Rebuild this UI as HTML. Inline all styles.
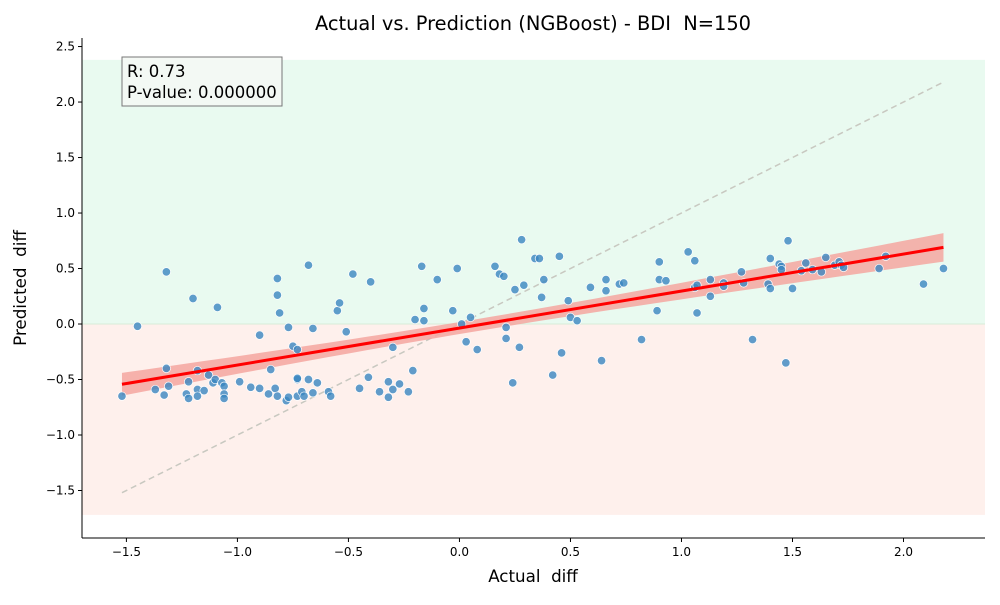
<!DOCTYPE html>
<html><head><meta charset="utf-8"><style>
body{margin:0;background:#fff}
svg{font-family:"DejaVu Sans","Liberation Sans",sans-serif}
</style></head><body>
<svg id="c" width="1000" height="600" xmlns="http://www.w3.org/2000/svg"></svg>
<script>
const xs=[-1.52,-1.45,-1.32,-1.32,-1.37,-1.33,-1.31,-1.20,-1.22,-1.23,-1.22,-1.18,-1.18,-1.18,-1.15,-1.13,-1.11,-1.10,-1.07,-1.06,-1.06,-1.06,-1.09,-0.99,-0.94,-0.90,-0.90,-0.86,-0.85,-0.83,-0.82,-0.82,-0.82,-0.81,-0.77,-0.75,-0.73,-0.73,-0.73,-0.78,-0.77,-0.73,-0.71,-0.70,-0.68,-0.68,-0.66,-0.66,-0.64,-0.59,-0.58,-0.55,-0.54,-0.51,-0.48,-0.45,-0.41,-0.40,-0.36,-0.32,-0.32,-0.30,-0.30,-0.27,-0.23,-0.21,-0.20,-0.17,-0.16,-0.16,-0.10,-0.03,-0.01,0.01,0.03,0.05,0.08,0.16,0.18,0.20,0.21,0.21,0.24,0.25,0.27,0.28,0.29,0.34,0.36,0.37,0.38,0.42,0.45,0.46,0.49,0.50,0.53,0.59,0.64,0.66,0.66,0.72,0.74,0.82,0.89,0.90,0.90,0.93,1.03,1.06,1.06,1.07,1.07,1.13,1.13,1.19,1.19,1.27,1.28,1.32,1.39,1.40,1.40,1.44,1.45,1.45,1.47,1.48,1.50,1.54,1.56,1.59,1.63,1.65,1.69,1.71,1.72,1.73,1.89,1.92,2.09,2.18];
const ys=[-0.65,-0.02,0.47,-0.40,-0.59,-0.64,-0.56,0.23,-0.52,-0.63,-0.67,-0.42,-0.59,-0.65,-0.60,-0.46,-0.53,-0.50,-0.53,-0.56,-0.63,-0.67,0.15,-0.52,-0.57,-0.58,-0.10,-0.63,-0.41,-0.58,-0.65,0.41,0.26,0.10,-0.03,-0.20,-0.23,-0.50,-0.49,-0.69,-0.66,-0.65,-0.61,-0.65,0.53,-0.50,-0.04,-0.62,-0.53,-0.61,-0.65,0.12,0.19,-0.07,0.45,-0.58,-0.48,0.38,-0.61,-0.52,-0.66,-0.21,-0.59,-0.54,-0.61,-0.42,0.04,0.52,0.14,0.03,0.40,0.12,0.50,0.00,-0.16,0.06,-0.23,0.52,0.45,0.43,-0.03,-0.13,-0.53,0.31,-0.21,0.76,0.35,0.59,0.59,0.24,0.40,-0.46,0.61,-0.26,0.21,0.06,0.03,0.33,-0.33,0.40,0.30,0.36,0.37,-0.14,0.12,0.56,0.40,0.39,0.65,0.57,0.33,0.35,0.10,0.40,0.25,0.37,0.34,0.47,0.37,-0.14,0.36,0.59,0.32,0.54,0.52,0.49,-0.35,0.75,0.32,0.48,0.55,0.49,0.47,0.60,0.53,0.56,0.53,0.51,0.50,0.61,0.36,0.50];
const xTicks=[-1.5,-1.0,-0.5,0.0,0.5,1.0,1.5,2.0];
const yTicks=[-1.5,-1.0,-0.5,0.0,0.5,1.0,1.5,2.0,2.5];
const L=82,R=985,T=38,B=538,xmin=-1.70,xmax=2.367,ymin=-1.928,ymax=2.577;
const X=v=>L+(v-xmin)/(xmax-xmin)*(R-L), Y=v=>B-(v-ymin)/(ymax-ymin)*(B-T);
const svg=document.getElementById('c'),NS='http://www.w3.org/2000/svg';
function mk(t,a,p){const e=document.createElementNS(NS,t);for(const k in a)e.setAttribute(k,a[k]);(p||svg).appendChild(e);return e;}
const mx=Math.min(...xs),Mx=Math.max(...xs);
let e=mk('rect',{x:L,y:Y(2.38),width:R-L,height:Y(0)-Y(2.38),fill:'#e9faf0'});

e=mk('rect',{x:L,y:Y(0),width:R-L,height:Y(-1.72)-Y(0),fill:'#fef0ec'});

e=mk('line',{x1:L,x2:R,y1:Y(0),y2:Y(0),stroke:'#d8ecd8','stroke-width':1});

e=mk('line',{x1:X(mx),y1:Y(mx),x2:X(Mx),y2:Y(Mx),stroke:'#c8c8c0','stroke-width':1.5,'stroke-dasharray':'6,4'});

const n=xs.length,ax=xs.reduce((a,b)=>a+b)/n,ay=ys.reduce((a,b)=>a+b)/n;
let sxx=0,sxy=0;for(let i=0;i<n;i++){sxx+=(xs[i]-ax)**2;sxy+=(xs[i]-ax)*(ys[i]-ay);}
const b=sxy/sxx,a=ay-b*ax;let sse=0;for(let i=0;i<n;i++)sse+=(ys[i]-a-b*xs[i])**2;
const s=Math.sqrt(sse/(n-2));
let up=[],lo=[];for(let k=0;k<=40;k++){const x=mx+(Mx-mx)*k/40,h=1.976*s*Math.sqrt(1/n+(x-ax)**2/sxx);up.push(X(x)+','+Y(a+b*x+h));lo.unshift(X(x)+','+Y(a+b*x-h));}
e=mk('polygon',{points:up.concat(lo).join(' '),fill:'#f4a6a0',opacity:0.85});

const g=mk('g',{});
for(let i=0;i<n;i++){const c=mk('circle',{cx:X(xs[i]),cy:Y(ys[i]),r:4.2,fill:'#3a86c0','fill-opacity':0.8,stroke:'#fff','stroke-width':0.7},g);

}
e=mk('line',{x1:X(mx),y1:Y(a+b*mx),x2:X(Mx),y2:Y(a+b*Mx),stroke:'#ff0000','stroke-width':3});

e=mk('line',{x1:L,y1:T,x2:L,y2:B,stroke:'#000','stroke-width':1});
e=mk('line',{x1:L,y1:B,x2:R,y2:B,stroke:'#000','stroke-width':1});
xTicks.forEach(v=>{mk('line',{x1:X(v),x2:X(v),y1:B,y2:B+4,stroke:'#000'});const t=mk('text',{x:X(v),y:B+18,'text-anchor':'middle','font-size':12});t.textContent=v.toFixed(1).replace('-','−');
});
yTicks.forEach(v=>{mk('line',{x1:L-4,x2:L,y1:Y(v),y2:Y(v),stroke:'#000'});const t=mk('text',{x:L-7,y:Y(v)+4,'text-anchor':'end','font-size':12});t.textContent=v.toFixed(1).replace('-','−');
});
</script>
<svg width="1000" height="600" style="position:absolute;left:0;top:0;font-family:'DejaVu Sans','Liberation Sans',sans-serif">
<text x="533" y="30" text-anchor="middle" font-size="19.4" xml:space="preserve">Actual vs. Prediction (NGBoost) - BDI  N=150</text>
<text x="533" y="582" text-anchor="middle" font-size="16.7" xml:space="preserve">Actual  diff</text>
<text x="26" y="288" text-anchor="middle" font-size="16.7" xml:space="preserve" transform="rotate(-90 26 288)">Predicted  diff</text>
<g>
<rect x="122" y="57" width="160" height="49" fill="#f4f8f4" fill-opacity="0.9" stroke="#777" stroke-width="1"/>
<text x="127" y="77" font-size="16.5">R: 0.73</text>
<text x="127" y="98" font-size="16.5">P-value: 0.000000</text>
</g>
</svg>
</body></html>
